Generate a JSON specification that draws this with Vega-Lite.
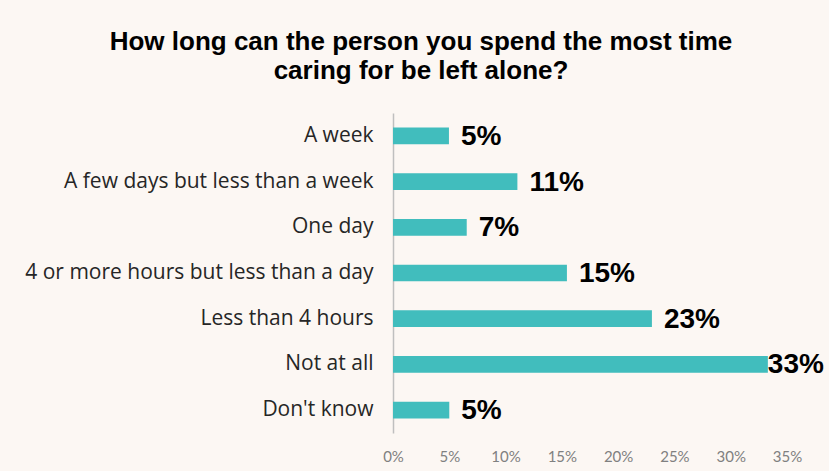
{
  "$schema": "https://vega.github.io/schema/vega-lite/v6.json",
  "width": 394,
  "height": 320,
  "autosize": {"type": "none"},
  "padding": {"left": 393, "top": 113, "right": 42, "bottom": 38},
  "background": "#FCF7F3",
  "title": {
    "text": ["How long can the person you spend the most time", "caring for be left alone?"],
    "font": "Liberation Sans",
    "fontSize": 26,
    "fontWeight": "bold",
    "color": "#000000",
    "lineHeight": 29,
    "anchor": "middle",
    "dx": -169,
    "offset": 29
  },
  "data": {
    "values": [
      {"category": "A week", "share": 0.0497, "label": "5%"},
      {"category": "A few days but less than a week", "share": 0.1105, "label": "11%"},
      {"category": "One day", "share": 0.0655, "label": "7%"},
      {"category": "4 or more hours but less than a day", "share": 0.1545, "label": "15%"},
      {"category": "Less than 4 hours", "share": 0.2300, "label": "23%"},
      {"category": "Not at all", "share": 0.3330, "label": "33%"},
      {"category": "Don't know", "share": 0.0500, "label": "5%"}
    ]
  },
  "encoding": {
    "y": {
      "field": "category",
      "type": "nominal",
      "sort": null,
      "title": null,
      "scale": {"paddingInner": 0.635, "paddingOuter": 0.32},
      "axis": {
        "domainColor": "#BFBFBF",
        "domainWidth": 1.5,
        "ticks": false,
        "labelFont": "Open Sans",
        "labelFontSize": 21,
        "labelColor": "#262626",
        "labelPadding": 20,
        "labelLimit": 400
      }
    },
    "x": {
      "field": "share",
      "type": "quantitative",
      "title": null,
      "scale": {"domain": [0, 0.35], "nice": false},
      "axis": {
        "values": [0, 0.05, 0.1, 0.15, 0.2, 0.25, 0.3, 0.35],
        "format": ".0%",
        "domain": false,
        "ticks": false,
        "grid": false,
        "labelFont": "Lato",
        "labelFontSize": 15,
        "labelColor": "#808080",
        "labelPadding": 16,
        "labelFlush": false
      }
    }
  },
  "layer": [
    {"mark": {"type": "bar", "color": "#41BDBD"}},
    {
      "transform": [{"filter": "datum.share < 0.3"}],
      "mark": {"type": "text", "align": "left", "dx": 12, "dy": 1, "font": "Liberation Sans", "fontSize": 28, "fontWeight": "bold", "color": "#000000"},
      "encoding": {"text": {"field": "label", "type": "nominal"}}
    },
    {
      "transform": [{"filter": "datum.share >= 0.3"}],
      "mark": {"type": "text", "align": "left", "dx": 0, "dy": 1, "font": "Liberation Sans", "fontSize": 28, "fontWeight": "bold", "color": "#000000"},
      "encoding": {"text": {"field": "label", "type": "nominal"}}
    }
  ],
  "config": {"view": {"stroke": null}}
}
